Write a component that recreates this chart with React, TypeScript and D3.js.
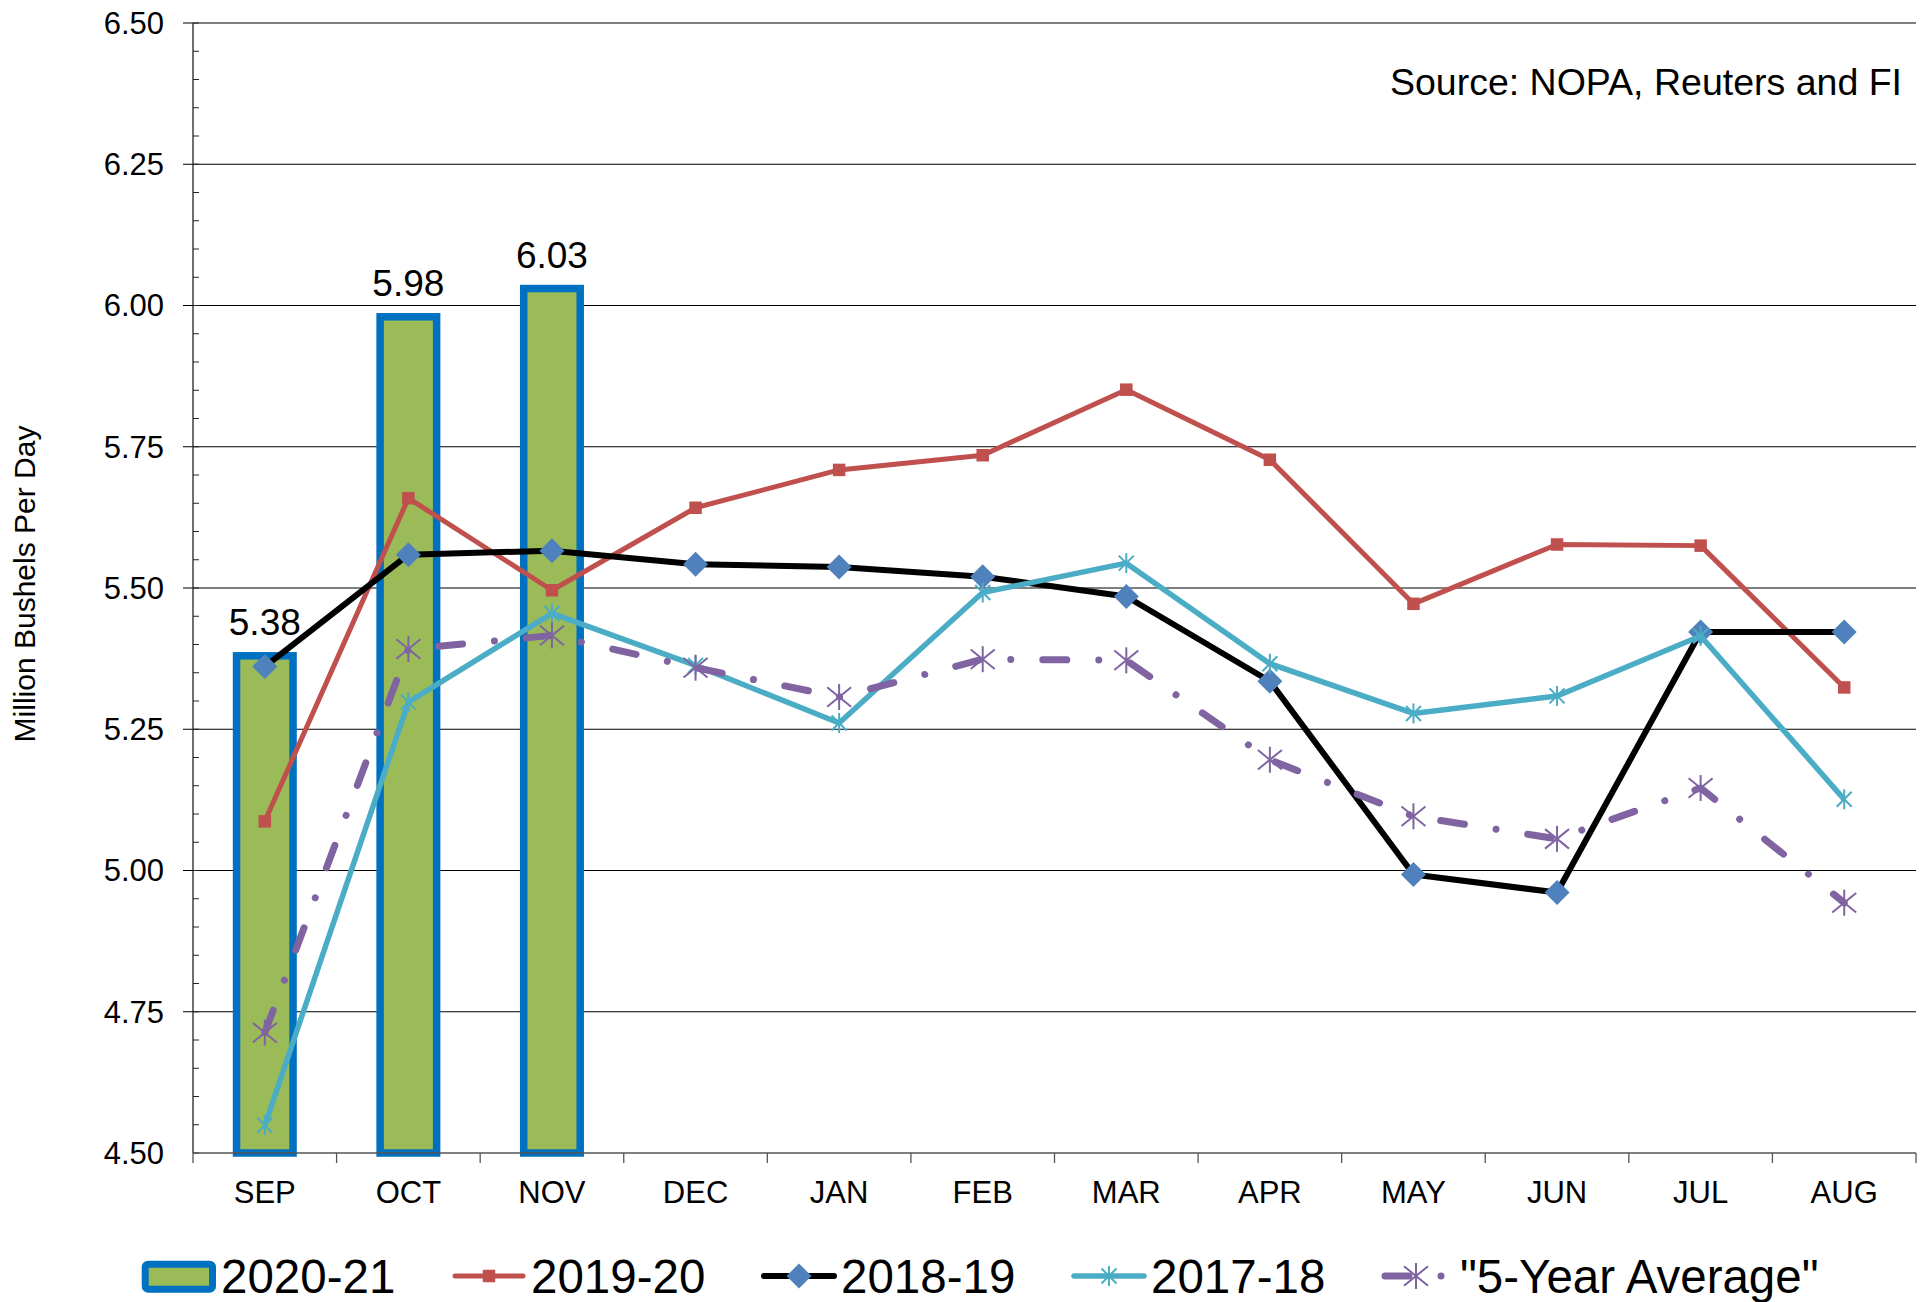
import React from "react";
import * as d3 from "d3";

const months = ["SEP", "OCT", "NOV", "DEC", "JAN", "FEB", "MAR", "APR", "MAY", "JUN", "JUL", "AUG"];
const crush2021 = [5.38, 5.98, 6.03];
const crush1920 = [5.087, 5.659, 5.496, 5.642, 5.709, 5.735, 5.851, 5.727, 5.472, 5.577, 5.575, 5.324];
const crush1819 = [5.361, 5.559, 5.566, 5.542, 5.537, 5.52, 5.485, 5.335, 4.993, 4.961, 5.422, 5.422];
const crush1718 = [4.549, 5.298, 5.455, 5.363, 5.261, 5.492, 5.544, 5.366, 5.278, 5.309, 5.415, 5.126];
const fiveYearAvg = [4.713, 5.392, 5.416, 5.359, 5.307, 5.374, 5.372, 5.196, 5.096, 5.056, 5.146, 4.943];
const yTicks = [4.5, 4.75, 5.0, 5.25, 5.5, 5.75, 6.0, 6.25, 6.5];

const FONT = "'Liberation Sans', Arial, sans-serif";
const W = 1928;
const H = 1302;
const left = 193;
const right = 1916;
const top = 23;
const bottom = 1153;

const RED = "#C0504D";
const BLUE = "#4F81BD";
const TEAL = "#4BACC6";
const PURPLE = "#8064A2";
const GREEN = "#9BBB59";
const BAR_EDGE = "#0070C0";
const DASH = "24 32 0.01 32";

const Star = ({ x, y, w, h, color, sw }) => (
  <g stroke={color} strokeWidth={sw} fill="none">
    <line x1={x} y1={y - h} x2={x} y2={y + h} />
    <line x1={x - w} y1={y - h * 0.75} x2={x + w} y2={y + h * 0.75} />
    <line x1={x - w} y1={y + h * 0.75} x2={x + w} y2={y - h * 0.75} />
  </g>
);

const Diamond = ({ x, y, r }) => (
  <path d={`M${x},${y - r}L${x + r},${y}L${x},${y + r}L${x - r},${y}Z`} fill={BLUE} />
);

const Square = ({ x, y, s }) => <rect x={x - s / 2} y={y - s / 2} width={s} height={s} fill={RED} />;

export default function App() {
  const x = d3.scaleBand().domain(months).range([left, right]).padding(0);
  const y = d3.scaleLinear().domain([4.5, 6.5]).range([bottom, top]);
  const cx = (m) => x(m) + x.bandwidth() / 2;
  const line = d3
    .line()
    .x((d, i) => cx(months[i]))
    .y((d) => y(d));
  const minor = d3.range(0, 41).map((i) => 4.5 + i * 0.05);
  const barW = 56.5;

  return (
    <svg
      width={W}
      height={H}
      style={{ position: "absolute", left: 0, top: 0, background: "#fff" }}
      fontFamily={FONT}
    >
      {/* gridlines */}
      {yTicks.slice(1).map((t) => (
        <line key={t} x1={left - 10} x2={right} y1={y(t)} y2={y(t)} stroke="#000" strokeWidth={1.1} />
      ))}
      {/* minor ticks */}
      {minor.map((t, i) => (
        <line key={i} x1={left} x2={left + 6} y1={y(t)} y2={y(t)} stroke="#222" strokeWidth={1} />
      ))}
      {/* y axis */}
      <line x1={left} x2={left} y1={top} y2={bottom} stroke="#222" strokeWidth={1.3} />
      {yTicks.map((t) => (
        <text key={t} x={164} y={y(t)} dy="0.35em" textAnchor="end" fontSize={31}>
          {t.toFixed(2)}
        </text>
      ))}
      <text transform={`translate(35,584) rotate(-90)`} textAnchor="middle" fontSize={30}>
        Million Bushels Per Day
      </text>

      {/* bars */}
      {crush2021.map((v, i) => (
        <g key={i}>
          <rect
            x={cx(months[i]) - barW / 2}
            y={y(v)}
            width={barW}
            height={y(4.5) - y(v)}
            fill={GREEN}
            stroke={BAR_EDGE}
            strokeWidth={7.5}
          />
          <text x={cx(months[i])} y={y(v) - 21} textAnchor="middle" fontSize={37}>
            {v.toFixed(2)}
          </text>
        </g>
      ))}

      {/* x axis */}
      <line x1={left} x2={right} y1={bottom} y2={bottom} stroke="#555" strokeWidth={1.5} />
      {months.map((m) => (
        <line key={m} x1={x(m)} x2={x(m)} y1={bottom} y2={bottom + 10} stroke="#555" strokeWidth={1.3} />
      ))}
      <line x1={right} x2={right} y1={bottom} y2={bottom + 10} stroke="#555" strokeWidth={1.3} />
      {months.map((m) => (
        <text key={m} x={cx(m)} y={1203} textAnchor="middle" fontSize={31}>
          {m}
        </text>
      ))}

      {/* 2019-20 */}
      <path d={line(crush1920)} fill="none" stroke={RED} strokeWidth={5} strokeLinejoin="round" />
      {crush1920.map((v, i) => (
        <Square key={i} x={cx(months[i])} y={y(v)} s={12.5} />
      ))}
      {/* 2018-19 */}
      <path d={line(crush1819)} fill="none" stroke="#000" strokeWidth={6} strokeLinejoin="round" />
      {crush1819.map((v, i) => (
        <Diamond key={i} x={cx(months[i])} y={y(v)} r={12.5} />
      ))}
      {/* 2017-18 */}
      <path d={line(crush1718)} fill="none" stroke={TEAL} strokeWidth={5.5} strokeLinejoin="round" />
      {crush1718.map((v, i) => (
        <Star key={i} x={cx(months[i])} y={y(v)} w={7.5} h={10} color={TEAL} sw={2} />
      ))}
      {/* 5-year average */}
      <path
        d={line(fiveYearAvg)}
        fill="none"
        stroke={PURPLE}
        strokeWidth={7}
        strokeDasharray={DASH}
        strokeLinecap="round"
        strokeLinejoin="round"
      />
      {fiveYearAvg.map((v, i) => (
        <Star key={i} x={cx(months[i])} y={y(v)} w={12} h={13} color={PURPLE} sw={2} />
      ))}

      <text x={1902} y={95} textAnchor="end" fontSize={37.5}>
        Source: NOPA, Reuters and FI
      </text>

      {/* legend */}
      <g fontSize={47.5}>
        <rect x={145.2} y={1264.2} width={67.3} height={25} rx={3} fill={GREEN} stroke={BAR_EDGE} strokeWidth={7} />
        <text x={221} y={1293}>2020-21</text>

        <line x1={455} x2={523} y1={1276} y2={1276} stroke={RED} strokeWidth={5} strokeLinecap="round" />
        <Square x={489} y={1276} s={12.5} />
        <text x={531} y={1293}>2019-20</text>

        <line x1={764} x2={834} y1={1276} y2={1276} stroke="#000" strokeWidth={6} strokeLinecap="round" />
        <Diamond x={799} y={1276} r={12.5} />
        <text x={841} y={1293}>2018-19</text>

        <line x1={1074} x2={1144} y1={1276} y2={1276} stroke={TEAL} strokeWidth={5.5} strokeLinecap="round" />
        <Star x={1109} y={1276} w={7.5} h={10} color={TEAL} sw={2} />
        <text x={1151} y={1293}>2017-18</text>

        <line
          x1={1385}
          x2={1448}
          y1={1276}
          y2={1276}
          stroke={PURPLE}
          strokeWidth={7}
          strokeDasharray={DASH}
          strokeLinecap="round"
        />
        <Star x={1416} y={1276} w={12} h={13} color={PURPLE} sw={2} />
        <text x={1460} y={1293}>"5-Year Average"</text>
      </g>
    </svg>
  );
}
